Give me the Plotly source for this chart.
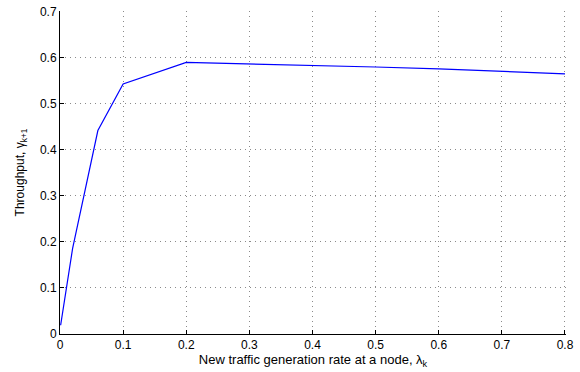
import plotly.graph_objects as go

x_rate = [0.001, 0.02, 0.06, 0.1, 0.2, 0.3, 0.4, 0.5, 0.6, 0.7, 0.8]
throughput = [0.019, 0.186, 0.442, 0.543, 0.590, 0.587, 0.584, 0.580, 0.576, 0.570, 0.565]

x_ticks = [0, 0.1, 0.2, 0.3, 0.4, 0.5, 0.6, 0.7, 0.8]
x_tick_labels = ["0", "0.1", "0.2", "0.3", "0.4", "0.5", "0.6", "0.7", "0.8"]
y_ticks = [0, 0.1, 0.2, 0.3, 0.4, 0.5, 0.6, 0.7]
y_tick_labels = ["0", "0.1", "0.2", "0.3", "0.4", "0.5", "0.6", "0.7"]

fig = go.Figure()
fig.add_trace(go.Scatter(x=x_rate, y=throughput, mode="lines",
                         line=dict(color="#0000FF", width=1.2), showlegend=False))

font = "Liberation Sans, Arial, Helvetica, sans-serif"
axis_common = dict(
    showline=True, linecolor="black", linewidth=1,
    ticks="inside", ticklen=4, tickcolor="black",
    showgrid=True, gridcolor="#8a8a8a", griddash="1px,4px", gridwidth=1,
    zeroline=False, mirror=False, ticklabeloverflow="allow",
    tickfont=dict(family=font, size=12, color="black"),
)

fig.update_layout(
    width=580, height=372,
    margin=dict(l=60, r=14, t=5, b=38),
    paper_bgcolor="white", plot_bgcolor="white",
    font=dict(family=font, color="black"),
    xaxis=dict(range=[0, 0.8016], tickvals=x_ticks, ticktext=x_tick_labels,
               title=dict(text="New traffic generation rate at a node, λ<sub>k</sub>",
                          font=dict(family=font, size=13), standoff=0),
               **axis_common),
    yaxis=dict(range=[0, 0.7016], tickvals=y_ticks, ticktext=y_tick_labels,
               title=dict(text="Throughput, γ<sub>k+1</sub>",
                          font=dict(family=font, size=12), standoff=12),
               **axis_common),
)

fig.write_html("out.html")
